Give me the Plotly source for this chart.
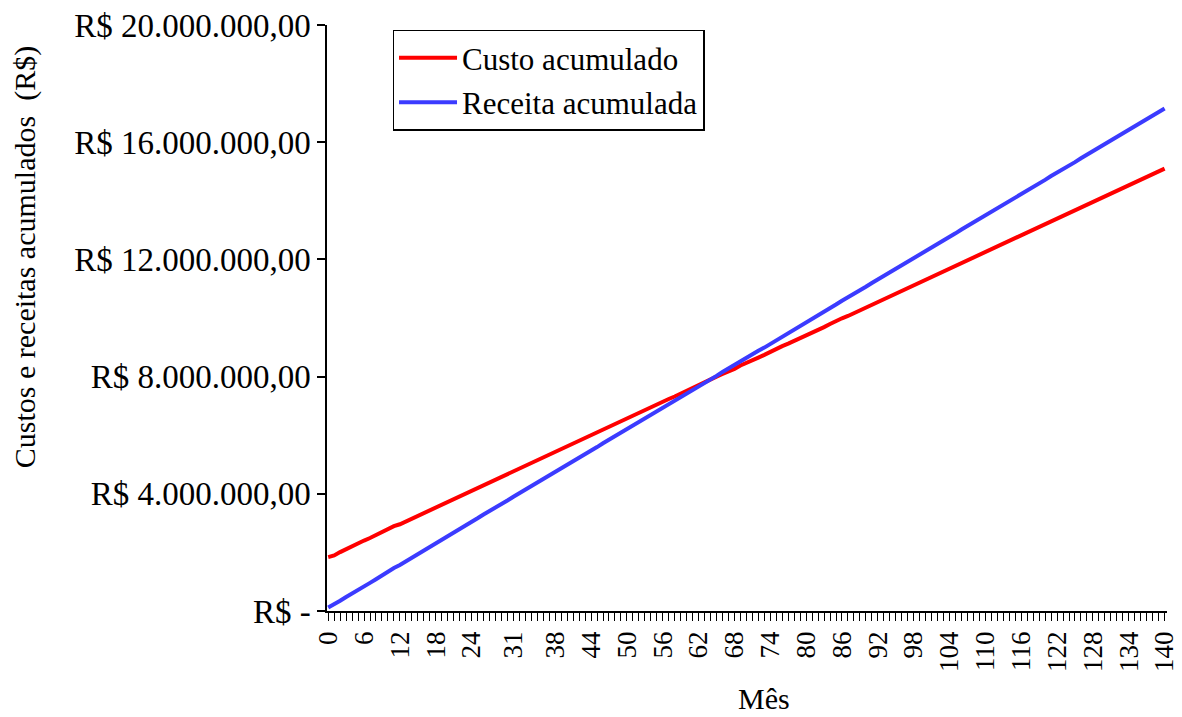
import plotly.graph_objects as go

# Mês (0 a 140)
meses = list(range(141))

# Custo acumulado por mês, em milhares de R$
custo_mil = [
    1840, 1895, 2010, 2115, 2225, 2330, 2405, 2490, 2590, 2700,
    2800, 2895, 2960, 3055, 3160, 3270, 3370, 3455, 3530, 3625,
    3735, 3840, 3935, 4015, 4100, 4195, 4305, 4410, 4500, 4580,
    4670, 4770, 4880, 4980, 5065, 5150, 5240, 5340, 5450, 5545,
    5630, 5715, 5810, 5915, 6020, 6110, 6195, 6280, 6380, 6490,
    6590, 6675, 6760, 6850, 6955, 7060, 7150, 7235, 7320, 7420,
    7530, 7625, 7705, 7795, 7895, 8000, 8090, 8170, 8265, 8380,
    8480, 8565, 8650, 8740, 8850, 8955, 9040, 9125, 9215, 9320,
    9430, 9520, 9600, 9690, 9795, 9900, 9990, 10070, 10165, 10270,
    10375, 10465, 10545, 10635, 10740, 10850, 10940, 11025, 11110, 11205,
    11315, 11420, 11505, 11590, 11680, 11780, 11890, 11985, 12065, 12150,
    12250, 12360, 12455, 12540, 12625, 12725, 12835, 12930, 13010, 13095,
    13200, 13310, 13400, 13480, 13570, 13680, 13785, 13870, 13955, 14045,
    14150, 14255, 14345, 14430, 14520, 14625, 14730, 14815, 14900, 14995,
    15100,
]

# Receita acumulada por mês, em milhares de R$
receita_mil = [
    120, 225, 350, 480, 610, 740, 850, 960, 1085, 1220,
    1350, 1465, 1570, 1690, 1820, 1955, 2075, 2180, 2300, 2425,
    2560, 2685, 2800, 2905, 3025, 3165, 3295, 3410, 3515, 3635,
    3770, 3900, 4020, 4125, 4245, 4380, 4510, 4625, 4735, 4850,
    4985, 5115, 5235, 5340, 5460, 5595, 5725, 5845, 5950, 6070,
    6205, 6335, 6450, 6555, 6675, 6810, 6940, 7060, 7165, 7285,
    7420, 7550, 7665, 7770, 7890, 8025, 8160, 8285, 8390, 8505,
    8635, 8765, 8880, 8990, 9110, 9245, 9375, 9490, 9595, 9715,
    9850, 9980, 10100, 10205, 10325, 10460, 10590, 10705, 10810, 10930,
    11065, 11195, 11315, 11420, 11540, 11675, 11805, 11925, 12030, 12150,
    12285, 12415, 12530, 12635, 12755, 12890, 13020, 13140, 13245, 13365,
    13500, 13630, 13745, 13850, 13970, 14105, 14235, 14355, 14460, 14580,
    14715, 14845, 14960, 15065, 15185, 15320, 15450, 15570, 15675, 15795,
    15930, 16060, 16180, 16285, 16405, 16540, 16670, 16790, 16895, 17015,
    17150,
]

# Rótulos do eixo X
rotulos_mes = [0, 6, 12, 18, 24, 31, 38, 44, 50, 56, 62, 68, 74, 80, 86,
               92, 98, 104, 110, 116, 122, 128, 134, 140]

# Marcas e rótulos do eixo Y
marcas_y = [0, 4_000_000, 8_000_000, 12_000_000, 16_000_000, 20_000_000]
rotulos_y = ["R$ -", "R$ 4.000.000,00", "R$ 8.000.000,00",
             "R$ 12.000.000,00", "R$ 16.000.000,00", "R$ 20.000.000,00"]

FONTE = "Liberation Serif, Times New Roman, serif"
TAM = 30
TAM_Y = 33
TAM_LEG = 31
TAM_X = 27

fig = go.Figure()
fig.add_trace(go.Scatter(
    x=meses, y=[v * 1000 for v in custo_mil], mode="lines",
    name="Custo acumulado", legendgroup="custo",
    line=dict(color="#FF0000", width=4),
))
fig.add_trace(go.Scatter(
    x=meses, y=[v * 1000 for v in receita_mil], mode="lines",
    name="Receita acumulada", legendgroup="receita",
    line=dict(color="#3B3BFF", width=4),
))

fig.update_layout(
    width=1182, height=717,
    margin=dict(l=327, r=15, t=25, b=106),
    paper_bgcolor="white", plot_bgcolor="white",
    font=dict(family=FONTE, size=TAM, color="black"),
    showlegend=True,
    legend=dict(
        x=0.078, y=0.992, xanchor="left", yanchor="top",
        bordercolor="black", borderwidth=1.5, bgcolor="white",
        font=dict(family=FONTE, size=TAM_LEG, color="black"),
        traceorder="grouped", tracegroupgap=1, itemwidth=58,
    ),
    xaxis=dict(
        range=[-0.2, 140.4], automargin=False,
        showgrid=False, zeroline=False,
        showline=True, linecolor="black", linewidth=1.5,
        ticks="outside", ticklen=8, tickwidth=1.2, tickcolor="black",
        tickmode="array", tickvals=rotulos_mes,
        ticktext=[str(m) for m in rotulos_mes],
        tickangle=-90,
        tickfont=dict(family=FONTE, size=TAM_X, color="black"),
        minor=dict(dtick=1, tick0=0, ticks="outside", ticklen=8,
                   tickwidth=1.2, tickcolor="black", showgrid=False),
    ),
    yaxis=dict(
        range=[0, 20_000_000], automargin=False,
        showgrid=False, zeroline=False,
        showline=True, linecolor="black", linewidth=1.5,
        ticks="outside", ticklen=8, tickwidth=1.5, tickcolor="black",
        tickmode="array", tickvals=marcas_y, ticktext=rotulos_y,
        tickfont=dict(family=FONTE, size=TAM_Y, color="black"),
    ),
    annotations=[
        dict(text="Custos e receitas acumulados  (R$)", textangle=-90,
             xref="paper", yref="paper", x=-0.36, y=0.603,
             xanchor="center", yanchor="middle", showarrow=False,
             font=dict(family=FONTE, size=TAM, color="black")),
        dict(text="Mês", xref="paper", yref="paper",
             x=0.52, y=-0.15, xanchor="center", yanchor="middle",
             showarrow=False,
             font=dict(family=FONTE, size=TAM, color="black")),
    ],
)

fig.write_html("out.html")
